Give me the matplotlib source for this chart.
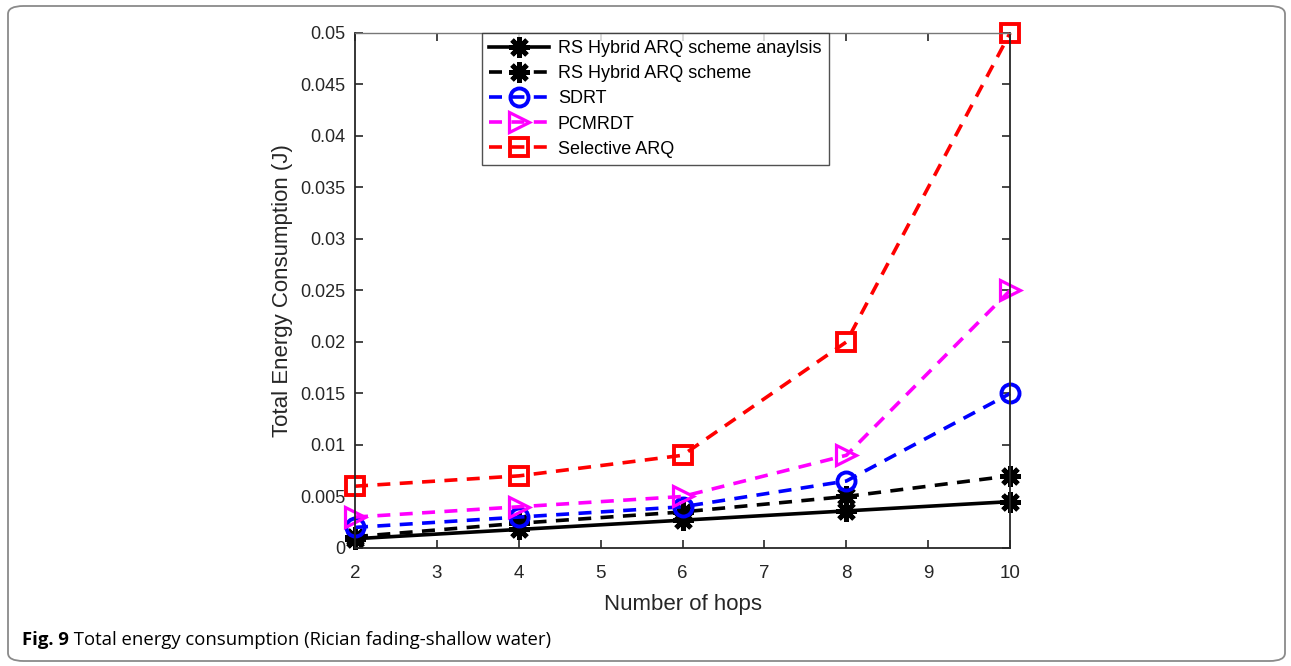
import matplotlib
matplotlib.use("Agg")
import matplotlib.pyplot as plt
from matplotlib.patches import FancyBboxPatch

plt.rcParams['font.family'] = ['Liberation Sans', 'DejaVu Sans']

hops = [2, 4, 6, 8, 10]
rs_analysis = [0.0009, 0.0018, 0.0027, 0.0036, 0.0045]
rs_scheme = [0.0011, 0.0024, 0.0035, 0.0050, 0.0070]
sdrt = [0.0020, 0.0030, 0.0040, 0.0065, 0.0150]
pcmrdt = [0.0030, 0.0040, 0.0050, 0.0090, 0.0250]
selective = [0.0060, 0.0070, 0.0090, 0.0200, 0.0500]

x_ticks = [2, 3, 4, 5, 6, 7, 8, 9, 10]
y_ticks = [0, 0.005, 0.01, 0.015, 0.02, 0.025, 0.03, 0.035, 0.04, 0.045, 0.05]
y_tick_labels = ['0', '0.005', '0.01', '0.015', '0.02', '0.025', '0.03',
                 '0.035', '0.04', '0.045', '0.05']
labels = ['RS Hybrid ARQ scheme anaylsis', 'RS Hybrid ARQ scheme', 'SDRT',
          'PCMRDT', 'Selective ARQ']
caption_bold = 'Fig. 9'
caption_rest = ' Total energy consumption (Rician fading-shallow water)'

fig = plt.figure(figsize=(12.91, 6.66), dpi=100)
ax = fig.add_axes([0.275, 0.1772, 0.5074, 0.7733])

lw = 2.6
dash = (3.6, 2.6)
ast = (8, 2, 0)
common = dict(lw=lw, clip_on=False)
ax.plot(hops, rs_analysis, color='black', marker=ast, ms=15, mew=3.5,
        label=labels[0], **common)
ax.plot(hops, rs_scheme, color='black', ls='--', dashes=dash,
        marker=ast, ms=15, mew=3.5, label=labels[1], **common)
ax.plot(hops, sdrt, color='#0000ff', ls='--', dashes=dash, marker='o',
        ms=13, mfc='none', mew=2.8, label=labels[2], **common)
ax.plot(hops, pcmrdt, color='#ff00ff', ls='--', dashes=dash, marker='>',
        ms=15, mfc='none', mew=2.3, label=labels[3], **common)
ax.plot(hops, selective, color='#ff0000', ls='--', dashes=dash,
        marker='s', ms=13, mfc='none', mew=2.8, label=labels[4], **common)

ax.set_xlim(2, 10)
ax.set_ylim(0, 0.05)
ax.set_xticks(x_ticks)
ax.set_xticklabels([str(v) for v in x_ticks])
ax.set_yticks(y_ticks)
ax.set_yticklabels(y_tick_labels)
ax.tick_params(direction='in', top=True, right=True, length=6, width=1.2,
               labelsize=13, colors='#262626', pad=7)
ax.tick_params(axis='x', labelsize=13.5, pad=12)
for s in ['left', 'bottom', 'right']:
    ax.spines[s].set_linewidth(1.3)
    ax.spines[s].set_color('#262626')
ax.spines['top'].set_linewidth(1.0)
ax.spines['top'].set_color('#777777')

ax.set_xlabel('Number of hops', fontsize=16, color='#262626', labelpad=9)
ax.set_ylabel('Total Energy Consumption (J)', fontsize=16, color='#262626',
              labelpad=5)

leg = ax.legend(loc='upper left', bbox_to_anchor=(0.194, 1.0), borderaxespad=0,
                fontsize=13, frameon=True, fancybox=False, edgecolor='#262626',
                handlelength=3.3, handletextpad=0.5, labelspacing=0.45,
                borderpad=0.4)
leg.get_frame().set_linewidth(1.0)

# outer rounded frame
frame = FancyBboxPatch((8 / 1291, 5 / 666), 1277 / 1291, 655 / 666,
                       boxstyle='round,pad=0,rounding_size=0.012',
                       transform=fig.transFigure, fill=False,
                       edgecolor='#8a8a8a', linewidth=1.3, zorder=-1)
fig.patches.append(frame)

t1 = fig.text(22 / 1291, 1 - 640 / 666, caption_bold, fontsize=13.3,
              fontweight='bold', family='Open Sans', va='center', ha='left')
fig.canvas.draw()
bb = t1.get_window_extent()
fig.text(bb.x1 / 1291, 1 - 640 / 666, caption_rest, fontsize=13.3,
         family='Open Sans', va='center', ha='left')

fig.savefig('out.png', dpi=100)
